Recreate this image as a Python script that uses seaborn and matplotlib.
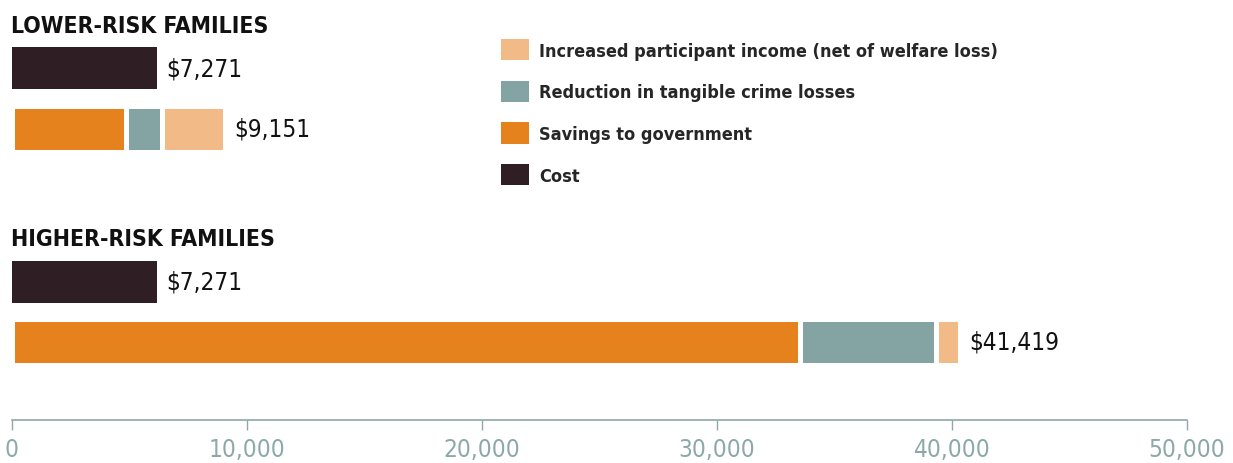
import matplotlib
matplotlib.use("Agg")
import matplotlib.pyplot as plt
import matplotlib.patches as mpatches
from matplotlib import font_manager as fm
import seaborn as sns
import pandas as pd

# ---------------- data ----------------
groups = ["LOWER-RISK FAMILIES", "HIGHER-RISK FAMILIES"]
rows = ["Cost", "Benefits"]
cost = [6170, 6170]                 # drawn length of cost bars
savings_to_government = [4850, 33550]
crime_reduction = [1540, 5770]
participant_income = [2670, 1020]
cost_labels = ["$7,271", "$7,271"]
benefit_labels = ["$9,151", "$41,419"]
legend_labels = ["Increased participant income (net of welfare loss)",
                 "Reduction in tangible crime losses",
                 "Savings to government",
                 "Cost"]
xticks = [0, 10000, 20000, 30000, 40000, 50000]

# ---------------- style ----------------
C_COST = "#2f1f25"
C_SAV = "#e6821e"
C_CRIME = "#84a4a3"
C_INC = "#f2ba86"
C_AXIS = "#8ca8a7"

sns.set_theme(style="white")


def narrow_files():
    reg, bold = None, None
    for f in fm.fontManager.ttflist:
        key = (f.name + " " + f.fname).lower()
        if ("narrow" in key or "condensed" in key or f.stretch == "condensed") \
                and "oblique" not in key and "italic" not in key and f.style == "normal":
            w = f.weight if isinstance(f.weight, int) else (700 if "bold" in str(f.weight) else 400)
            if w >= 600 and bold is None:
                bold = f.fname
            elif w < 600 and reg is None:
                reg = f.fname
    return reg, bold


REG, BOLD = narrow_files()
HAVE_NARROW = REG is not None and BOLD is not None
if HAVE_NARROW:
    fp_reg = lambda s: fm.FontProperties(fname=REG, size=s)
    fp_bold = lambda s: fm.FontProperties(fname=BOLD, size=s)
    S_TITLE, S_LAB, S_TICK, S_LEG = 16.5, 17.5, 17.5, 13
else:
    fp_reg = lambda s: fm.FontProperties(family=["Liberation Sans", "DejaVu Sans"], size=s)
    fp_bold = lambda s: fm.FontProperties(family=["Liberation Sans", "DejaVu Sans"],
                                          weight="bold", size=s)
    S_TITLE, S_LAB, S_TICK, S_LEG = 16, 16, 16, 13.5
plt.rcParams["font.family"] = ["Liberation Sans", "DejaVu Sans"]

W, H = 1233, 464
fig = plt.figure(figsize=(W / 100, H / 100), dpi=100)


def fy(px):
    return 1 - px / H


x0, x1 = 12, 1187
# axes for each group: (top px, bottom px, ylim, title baseline px)
specs = [
    (38.5, 160.5, (1.5, -0.5), 33),
    (253.0, 421.0, (2.3, -0.5), 246),
]

EDGE = 3.6  # points of white separator
for gi, (top, bot, ylim, tb) in enumerate(specs):
    ax = fig.add_axes([x0 / W, fy(bot), (x1 - x0) / W, (bot - top) / H])
    c = cost[gi]
    s = savings_to_government[gi]
    cr = crime_reduction[gi]
    inc = participant_income[gi]
    total = s + cr + inc

    df_cost = pd.DataFrame({"row": ["Cost"], "value": [c]})
    sns.barplot(data=df_cost, x="value", y="row", order=rows, orient="h",
                color=C_COST, width=0.69, linewidth=0, saturation=1, ax=ax)

    for val, col in [(total, C_INC), (s + cr, C_CRIME), (s, C_SAV)]:
        dfb = pd.DataFrame({"row": ["Benefits"], "value": [val]})
        sns.barplot(data=dfb, x="value", y="row", order=rows, orient="h",
                    color=col, width=0.77, edgecolor="white", linewidth=EDGE,
                    saturation=1, ax=ax)

    ax.annotate(cost_labels[gi], xy=(c, 0), xytext=(7, 0), textcoords="offset points",
                va="center", ha="left", fontproperties=fp_reg(S_LAB), color="#111111")
    ax.annotate(benefit_labels[gi], xy=(total, 1), xytext=(7, 0), textcoords="offset points",
                va="center", ha="left", fontproperties=fp_reg(S_LAB), color="#111111")

    ax.set_xlim(0, 50000)
    ax.set_ylim(*ylim)
    ax.set_xlabel("")
    ax.set_ylabel("")
    ax.set_yticks([])
    for sp in ["top", "right", "left"]:
        ax.spines[sp].set_visible(False)
    if gi == 0:
        ax.spines["bottom"].set_visible(False)
        ax.set_xticks([])
    else:
        ax.spines["bottom"].set_color(C_AXIS)
        ax.spines["bottom"].set_linewidth(1.2)
        ax.set_xticks(xticks)
        ax.set_xticklabels([f"{t:,}" for t in xticks])
        ax.tick_params(axis="x", direction="out", length=7, width=1, color=C_AXIS,
                       labelcolor=C_AXIS, pad=5, bottom=True)
        for lab in ax.get_xticklabels():
            lab.set_fontproperties(fp_reg(S_TICK))
    ax.patch.set_alpha(0)

    fig.text(11 / W, fy(tb), groups[gi], fontproperties=fp_bold(S_TITLE),
             color="#111111", va="baseline", ha="left")

handles = [mpatches.Patch(facecolor=col, edgecolor="none")
           for col in [C_INC, C_CRIME, C_SAV, C_COST]]
fig.legend(handles, legend_labels, loc="upper left",
           bbox_to_anchor=(501 / W, fy(40)), frameon=False, borderpad=0,
           borderaxespad=0, handlelength=1.55, handleheight=1.45,
           handletextpad=0.55, labelspacing=1.12,
           prop=fp_bold(S_LEG))

fig.savefig("out.png", dpi=100)
